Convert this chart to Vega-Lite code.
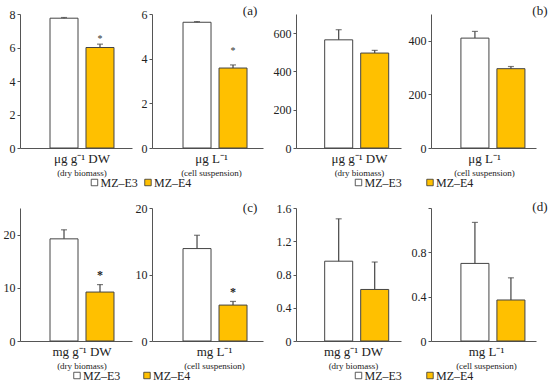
{
  "$schema": "https://vega.github.io/schema/vega-lite/v6.json",
  "padding": {"left": 0, "top": 5, "right": 5, "bottom": 1},
  "config": {
    "font": "Liberation Serif",
    "view": {"stroke": null},
    "axis": {"grid": false, "domainColor": "#555", "tickColor": "#555", "tickSize": 3, "labelPadding": 2, "labelFontSize": 12, "labelColor": "#222", "labelFont": "Liberation Serif"},
    "title": {"orient": "bottom", "fontSize": 13, "fontWeight": "normal", "subtitleFontSize": 9, "subtitlePadding": 0, "offset": -1, "color": "#222", "subtitleColor": "#222", "anchor": "middle", "frame": "group", "font": "Liberation Serif", "subtitleFont": "Liberation Serif"}
  },
  "datasets": {
    "d": [
      {"panel": "a1", "group": "MZ–E3", "mean": 7.75, "hi": 7.79, "star": null},
      {"panel": "a1", "group": "MZ–E4", "mean": 6.0, "hi": 6.2, "star": 6.63},
      {"panel": "a2", "group": "MZ–E3", "mean": 5.63, "hi": 5.66, "star": null},
      {"panel": "a2", "group": "MZ–E4", "mean": 3.58, "hi": 3.72, "star": 4.42},
      {"panel": "b1", "group": "MZ–E3", "mean": 565, "hi": 618, "star": null},
      {"panel": "b1", "group": "MZ–E4", "mean": 496, "hi": 510, "star": null},
      {"panel": "b2", "group": "MZ–E3", "mean": 410, "hi": 435, "star": null},
      {"panel": "b2", "group": "MZ–E4", "mean": 296, "hi": 304, "star": null},
      {"panel": "c1", "group": "MZ–E3", "mean": 19.2, "hi": 20.9, "star": null},
      {"panel": "c1", "group": "MZ–E4", "mean": 9.2, "hi": 10.6, "star": 13.0},
      {"panel": "c2", "group": "MZ–E3", "mean": 13.9, "hi": 15.9, "star": null},
      {"panel": "c2", "group": "MZ–E4", "mean": 5.4, "hi": 5.95, "star": 7.8},
      {"panel": "d1", "group": "MZ–E3", "mean": 0.96, "hi": 1.47, "star": null},
      {"panel": "d1", "group": "MZ–E4", "mean": 0.62, "hi": 0.95, "star": null},
      {"panel": "d2", "group": "MZ–E3", "mean": 0.70, "hi": 1.07, "star": null},
      {"panel": "d2", "group": "MZ–E4", "mean": 0.37, "hi": 0.57, "star": null}
    ]
  },
  "vconcat": [
    {
      "hconcat": [
        {
          "vconcat": [
            {
              "hconcat": [
                {
                  "width": 112, "height": 134,
                  "data": {"name": "d"},
                  "title": {"text": "μg g⁻¹ DW", "subtitle": "(dry biomass)", "dx": 6},
                  "transform": [{"filter": "datum.panel == 'a1'"}],
                  "encoding": {"x": {"field": "group", "type": "nominal", "title": null, "scale": {"paddingInner": 0.222, "paddingOuter": 0.667, "align": 0.625}, "axis": {"labels": false, "ticks": false, "title": null}}},
                  "layer": [
                    {"mark": {"type": "bar", "stroke": "#444", "strokeWidth": 1}, "encoding": {"y": {"field": "mean", "type": "quantitative", "title": null, "scale": {"domain": [0, 8], "nice": false}, "axis": {"values": [0, 2, 4, 6, 8], "tickCount": 12, "format": "d", "title": null, "minExtent": 20}}, "fill": {"field": "group", "type": "nominal", "scale": {"domain": ["MZ–E3", "MZ–E4"], "range": ["#ffffff", "#FFC000"]}, "legend": null}}},
                    {"mark": {"type": "rule", "color": "#444", "strokeWidth": 1.2}, "encoding": {"y": {"field": "mean", "type": "quantitative", "title": null}, "y2": {"field": "hi"}}},
                    {"mark": {"type": "tick", "color": "#444", "size": 6, "thickness": 1.2}, "encoding": {"y": {"field": "hi", "type": "quantitative", "title": null}}},
                    {"transform": [{"filter": "isValid(datum.star)"}], "mark": {"type": "text", "text": "*", "fontSize": 10, "color": "#333", "dy": 2}, "encoding": {"y": {"field": "star", "type": "quantitative", "title": null}}}
                  ]
                },
                {
                  "width": 111, "height": 134,
                  "data": {"name": "d"},
                  "title": {"text": "μg L⁻¹", "subtitle": "(cell suspension)", "dx": 4},
                  "transform": [{"filter": "datum.panel == 'a2'"}],
                  "encoding": {"x": {"field": "group", "type": "nominal", "title": null, "scale": {"paddingInner": 0.222, "paddingOuter": 0.653, "align": 0.66}, "axis": {"labels": false, "ticks": false, "title": null}}},
                  "layer": [
                    {"mark": {"type": "bar", "stroke": "#444", "strokeWidth": 1}, "encoding": {"y": {"field": "mean", "type": "quantitative", "title": null, "scale": {"domain": [0, 6], "nice": false}, "axis": {"values": [0, 2, 4, 6], "tickCount": 12, "format": "d", "title": null}}, "fill": {"field": "group", "type": "nominal", "scale": {"domain": ["MZ–E3", "MZ–E4"], "range": ["#ffffff", "#FFC000"]}, "legend": null}}},
                    {"mark": {"type": "rule", "color": "#444", "strokeWidth": 1.2}, "encoding": {"y": {"field": "mean", "type": "quantitative", "title": null}, "y2": {"field": "hi"}}},
                    {"mark": {"type": "tick", "color": "#444", "size": 6, "thickness": 1.2}, "encoding": {"y": {"field": "hi", "type": "quantitative", "title": null}}},
                    {"transform": [{"filter": "isValid(datum.star)"}], "mark": {"type": "text", "text": "*", "fontSize": 10, "color": "#333", "dy": 2}, "encoding": {"y": {"field": "star", "type": "quantitative", "title": null}}},
                    {"data": {"values": [{"label": "(a)"}]}, "mark": {"type": "text", "fontSize": 13, "color": "#222", "baseline": "middle", "dx": 17, "dy": -3}, "encoding": {"text": {"field": "label"}, "x": {"datum": "MZ–E4"}, "y": {"datum": 6}}}
                  ]
                }
              ],
              "spacing": 20, "bounds": "flush"
            },
            {
              "width": 160.5, "height": 6,
              "data": {"values": [{"group": "MZ–E3"}, {"group": "MZ–E4"}]},
              "encoding": {"x": {"field": "group", "type": "nominal", "title": null, "scale": {"type": "point", "padding": 1, "align": 0.696}, "axis": null}},
              "layer": [
                {"mark": {"type": "point", "shape": "square", "filled": true, "size": 42, "stroke": "#333", "strokeWidth": 0.8, "opacity": 1}, "encoding": {"fill": {"field": "group", "type": "nominal", "scale": {"domain": ["MZ–E3", "MZ–E4"], "range": ["#ffffff", "#FFC000"]}, "legend": null}}},
                {"mark": {"type": "text", "align": "left", "dx": 6, "fontSize": 12, "baseline": "middle", "color": "#222"}, "encoding": {"text": {"field": "group"}}}
              ]
            }
          ],
          "spacing": -1.5
        },
        {
          "vconcat": [
            {
              "hconcat": [
                {
                  "width": 105, "height": 134,
                  "data": {"name": "d"},
                  "title": {"text": "μg g⁻¹ DW", "subtitle": "(dry biomass)", "dx": 11},
                  "transform": [{"filter": "datum.panel == 'b1'"}],
                  "encoding": {"x": {"field": "group", "type": "nominal", "title": null, "scale": {"paddingInner": 0.222, "paddingOuter": 0.569, "align": 0.70}, "axis": {"labels": false, "ticks": false, "title": null}}},
                  "layer": [
                    {"mark": {"type": "bar", "stroke": "#444", "strokeWidth": 1}, "encoding": {"y": {"field": "mean", "type": "quantitative", "title": null, "scale": {"domain": [0, 700], "nice": false}, "axis": {"values": [0, 200, 400, 600], "tickCount": 12, "format": "d", "title": null, "minExtent": 24}}, "fill": {"field": "group", "type": "nominal", "scale": {"domain": ["MZ–E3", "MZ–E4"], "range": ["#ffffff", "#FFC000"]}, "legend": null}}},
                    {"mark": {"type": "rule", "color": "#444", "strokeWidth": 1.2}, "encoding": {"y": {"field": "mean", "type": "quantitative", "title": null}, "y2": {"field": "hi"}}},
                    {"mark": {"type": "tick", "color": "#444", "size": 6, "thickness": 1.2}, "encoding": {"y": {"field": "hi", "type": "quantitative", "title": null}}}
                  ]
                },
                {
                  "width": 105, "height": 134,
                  "data": {"name": "d"},
                  "title": {"text": "μg L⁻¹", "subtitle": "(cell suspension)", "dx": 1},
                  "transform": [{"filter": "datum.panel == 'b2'"}],
                  "encoding": {"x": {"field": "group", "type": "nominal", "title": null, "scale": {"paddingInner": 0.222, "paddingOuter": 0.569, "align": 0.73}, "axis": {"labels": false, "ticks": false, "title": null}}},
                  "layer": [
                    {"mark": {"type": "bar", "stroke": "#444", "strokeWidth": 1}, "encoding": {"y": {"field": "mean", "type": "quantitative", "title": null, "scale": {"domain": [0, 500], "nice": false}, "axis": {"values": [0, 200, 400], "tickCount": 12, "format": "d", "title": null}}, "fill": {"field": "group", "type": "nominal", "scale": {"domain": ["MZ–E3", "MZ–E4"], "range": ["#ffffff", "#FFC000"]}, "legend": null}}},
                    {"mark": {"type": "rule", "color": "#444", "strokeWidth": 1.2}, "encoding": {"y": {"field": "mean", "type": "quantitative", "title": null}, "y2": {"field": "hi"}}},
                    {"mark": {"type": "tick", "color": "#444", "size": 6, "thickness": 1.2}, "encoding": {"y": {"field": "hi", "type": "quantitative", "title": null}}},
                    {"data": {"values": [{"label": "(b)"}]}, "mark": {"type": "text", "fontSize": 13, "color": "#222", "baseline": "middle", "dx": 29, "dy": -3}, "encoding": {"text": {"field": "label"}, "x": {"datum": "MZ–E4"}, "y": {"datum": 500}}}
                  ]
                }
              ],
              "spacing": 30, "bounds": "flush"
            },
            {
              "width": 214.5, "height": 6,
              "data": {"values": [{"group": "MZ–E3"}, {"group": "MZ–E4"}]},
              "encoding": {"x": {"field": "group", "type": "nominal", "title": null, "scale": {"type": "point", "padding": 1, "align": 0.437}, "axis": null}},
              "layer": [
                {"mark": {"type": "point", "shape": "square", "filled": true, "size": 42, "stroke": "#333", "strokeWidth": 0.8, "opacity": 1}, "encoding": {"fill": {"field": "group", "type": "nominal", "scale": {"domain": ["MZ–E3", "MZ–E4"], "range": ["#ffffff", "#FFC000"]}, "legend": null}}},
                {"mark": {"type": "text", "align": "left", "dx": 6, "fontSize": 12, "baseline": "middle", "color": "#222"}, "encoding": {"text": {"field": "group"}}}
              ]
            }
          ],
          "spacing": -1.5
        }
      ],
      "spacing": 9
    },
    {
      "hconcat": [
        {
          "vconcat": [
            {
              "hconcat": [
                {
                  "width": 112, "height": 133,
                  "data": {"name": "d"},
                  "title": {"text": "mg g⁻¹ DW", "subtitle": "(dry biomass)", "dx": 6},
                  "transform": [{"filter": "datum.panel == 'c1'"}],
                  "encoding": {"x": {"field": "group", "type": "nominal", "title": null, "scale": {"paddingInner": 0.222, "paddingOuter": 0.667, "align": 0.625}, "axis": {"labels": false, "ticks": false, "title": null}}},
                  "layer": [
                    {"mark": {"type": "bar", "stroke": "#444", "strokeWidth": 1}, "encoding": {"y": {"field": "mean", "type": "quantitative", "title": null, "scale": {"domain": [0, 25], "nice": false}, "axis": {"values": [0, 10, 20], "tickCount": 12, "format": "d", "title": null, "minExtent": 20}}, "fill": {"field": "group", "type": "nominal", "scale": {"domain": ["MZ–E3", "MZ–E4"], "range": ["#ffffff", "#FFC000"]}, "legend": null}}},
                    {"mark": {"type": "rule", "color": "#444", "strokeWidth": 1.2}, "encoding": {"y": {"field": "mean", "type": "quantitative", "title": null}, "y2": {"field": "hi"}}},
                    {"mark": {"type": "tick", "color": "#444", "size": 6, "thickness": 1.2}, "encoding": {"y": {"field": "hi", "type": "quantitative", "title": null}}},
                    {"transform": [{"filter": "isValid(datum.star)"}], "mark": {"type": "text", "text": "*", "fontSize": 12, "fontWeight": "bold", "color": "#222", "dy": 3}, "encoding": {"y": {"field": "star", "type": "quantitative", "title": null}}}
                  ]
                },
                {
                  "width": 111, "height": 133,
                  "data": {"name": "d"},
                  "title": {"text": "mg L⁻¹", "subtitle": "(cell suspension)", "dx": 7},
                  "transform": [{"filter": "datum.panel == 'c2'"}],
                  "encoding": {"x": {"field": "group", "type": "nominal", "title": null, "scale": {"paddingInner": 0.222, "paddingOuter": 0.653, "align": 0.66}, "axis": {"labels": false, "ticks": false, "title": null}}},
                  "layer": [
                    {"mark": {"type": "bar", "stroke": "#444", "strokeWidth": 1}, "encoding": {"y": {"field": "mean", "type": "quantitative", "title": null, "scale": {"domain": [0, 20], "nice": false}, "axis": {"values": [0, 10, 20], "tickCount": 12, "format": "d", "title": null}}, "fill": {"field": "group", "type": "nominal", "scale": {"domain": ["MZ–E3", "MZ–E4"], "range": ["#ffffff", "#FFC000"]}, "legend": null}}},
                    {"mark": {"type": "rule", "color": "#444", "strokeWidth": 1.2}, "encoding": {"y": {"field": "mean", "type": "quantitative", "title": null}, "y2": {"field": "hi"}}},
                    {"mark": {"type": "tick", "color": "#444", "size": 6, "thickness": 1.2}, "encoding": {"y": {"field": "hi", "type": "quantitative", "title": null}}},
                    {"transform": [{"filter": "isValid(datum.star)"}], "mark": {"type": "text", "text": "*", "fontSize": 12, "fontWeight": "bold", "color": "#222", "dy": 3}, "encoding": {"y": {"field": "star", "type": "quantitative", "title": null}}},
                    {"data": {"values": [{"label": "(c)"}]}, "mark": {"type": "text", "fontSize": 13, "color": "#222", "baseline": "middle", "dx": 17, "dy": 0}, "encoding": {"text": {"field": "label"}, "x": {"datum": "MZ–E4"}, "y": {"datum": 20}}}
                  ]
                }
              ],
              "spacing": 20, "bounds": "flush"
            },
            {
              "width": 210, "height": 6,
              "data": {"values": [{"group": "MZ–E3"}, {"group": "MZ–E4"}]},
              "encoding": {"x": {"field": "group", "type": "nominal", "title": null, "scale": {"type": "point", "padding": 1, "align": 0.407}, "axis": null}},
              "layer": [
                {"mark": {"type": "point", "shape": "square", "filled": true, "size": 42, "stroke": "#333", "strokeWidth": 0.8, "opacity": 1}, "encoding": {"fill": {"field": "group", "type": "nominal", "scale": {"domain": ["MZ–E3", "MZ–E4"], "range": ["#ffffff", "#FFC000"]}, "legend": null}}},
                {"mark": {"type": "text", "align": "left", "dx": 6, "fontSize": 12, "baseline": "middle", "color": "#222"}, "encoding": {"text": {"field": "group"}}}
              ]
            }
          ],
          "spacing": -1.5
        },
        {
          "vconcat": [
            {
              "hconcat": [
                {
                  "width": 105, "height": 133,
                  "data": {"name": "d"},
                  "title": {"text": "mg g⁻¹ DW", "subtitle": "(dry biomass)", "dx": 5},
                  "transform": [{"filter": "datum.panel == 'd1'"}],
                  "encoding": {"x": {"field": "group", "type": "nominal", "title": null, "scale": {"paddingInner": 0.222, "paddingOuter": 0.569, "align": 0.70}, "axis": {"labels": false, "ticks": false, "title": null}}},
                  "layer": [
                    {"mark": {"type": "bar", "stroke": "#444", "strokeWidth": 1}, "encoding": {"y": {"field": "mean", "type": "quantitative", "title": null, "scale": {"domain": [0, 1.6], "nice": false}, "axis": {"values": [0, 0.4, 0.8, 1.2, 1.6], "tickCount": 12, "format": ".1~f", "title": null, "minExtent": 24}}, "fill": {"field": "group", "type": "nominal", "scale": {"domain": ["MZ–E3", "MZ–E4"], "range": ["#ffffff", "#FFC000"]}, "legend": null}}},
                    {"mark": {"type": "rule", "color": "#444", "strokeWidth": 1.2}, "encoding": {"y": {"field": "mean", "type": "quantitative", "title": null}, "y2": {"field": "hi"}}},
                    {"mark": {"type": "tick", "color": "#444", "size": 6, "thickness": 1.2}, "encoding": {"y": {"field": "hi", "type": "quantitative", "title": null}}}
                  ]
                },
                {
                  "width": 105, "height": 133,
                  "data": {"name": "d"},
                  "title": {"text": "mg L⁻¹", "subtitle": "(cell suspension)", "dx": 3},
                  "transform": [{"filter": "datum.panel == 'd2'"}],
                  "encoding": {"x": {"field": "group", "type": "nominal", "title": null, "scale": {"paddingInner": 0.222, "paddingOuter": 0.569, "align": 0.73}, "axis": {"labels": false, "ticks": false, "title": null}}},
                  "layer": [
                    {"mark": {"type": "bar", "stroke": "#444", "strokeWidth": 1}, "encoding": {"y": {"field": "mean", "type": "quantitative", "title": null, "scale": {"domain": [0, 1.2], "nice": false}, "axis": {"values": [0, 0.4, 0.8, 1.2], "tickCount": 12, "format": ".1~f", "labelExpr": "datum.value > 1 ? '' : datum.label", "title": null}}, "fill": {"field": "group", "type": "nominal", "scale": {"domain": ["MZ–E3", "MZ–E4"], "range": ["#ffffff", "#FFC000"]}, "legend": null}}},
                    {"mark": {"type": "rule", "color": "#444", "strokeWidth": 1.2}, "encoding": {"y": {"field": "mean", "type": "quantitative", "title": null}, "y2": {"field": "hi"}}},
                    {"mark": {"type": "tick", "color": "#444", "size": 6, "thickness": 1.2}, "encoding": {"y": {"field": "hi", "type": "quantitative", "title": null}}},
                    {"data": {"values": [{"label": "(d)"}]}, "mark": {"type": "text", "fontSize": 13, "color": "#222", "baseline": "middle", "dx": 29, "dy": -1}, "encoding": {"text": {"field": "label"}, "x": {"datum": "MZ–E4"}, "y": {"datum": 1.2}}}
                  ]
                }
              ],
              "spacing": 30, "bounds": "flush"
            },
            {
              "width": 214.5, "height": 6,
              "data": {"values": [{"group": "MZ–E3"}, {"group": "MZ–E4"}]},
              "encoding": {"x": {"field": "group", "type": "nominal", "title": null, "scale": {"type": "point", "padding": 1, "align": 0.437}, "axis": null}},
              "layer": [
                {"mark": {"type": "point", "shape": "square", "filled": true, "size": 42, "stroke": "#333", "strokeWidth": 0.8, "opacity": 1}, "encoding": {"fill": {"field": "group", "type": "nominal", "scale": {"domain": ["MZ–E3", "MZ–E4"], "range": ["#ffffff", "#FFC000"]}, "legend": null}}},
                {"mark": {"type": "text", "align": "left", "dx": 6, "fontSize": 12, "baseline": "middle", "color": "#222"}, "encoding": {"text": {"field": "group"}}}
              ]
            }
          ],
          "spacing": -1.5
        }
      ],
      "spacing": 9
    }
  ],
  "spacing": 12
}
